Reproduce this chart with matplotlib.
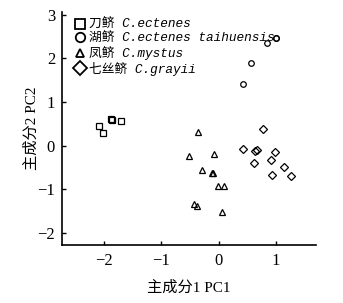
import matplotlib
matplotlib.use("Agg")
import matplotlib.pyplot as plt

# Data (PC1, PC2)
sq_x = [-2.08, -2.01, -1.87, -1.86, -1.70]
sq_y = [0.44, 0.29, 0.60, 0.58, 0.57]

ci_x = [0.43, 0.56, 0.85, 1.00, 1.01]
ci_y = [1.40, 1.90, 2.34, 2.47, 2.46]

tr_x = [-0.35, -0.52, -0.08, -0.29, -0.12, -0.09, -0.01, 0.09, -0.42, -0.38, 0.06]
tr_y = [0.32, -0.24, -0.20, -0.55, -0.63, -0.63, -0.92, -0.93, -1.35, -1.39, -1.53]

di_x = [0.77, 0.42, 0.64, 0.67, 0.62, 0.99, 0.92, 0.94, 1.14, 1.27]
di_y = [0.38, -0.09, -0.12, -0.10, -0.40, -0.15, -0.34, -0.68, -0.50, -0.69]

labels = ["刀鲚 C.ectenes", "湖鲚 C.ectenes taihuensis", "凤鲚 C.mystus", "七丝鲚 C.grayii"]
xticks = [-2, -1, 0, 1]
yticks = [-2, -1, 0, 1, 2, 3]

serif_cjk = ["Liberation Serif", "Noto Sans CJK SC"]

fig = plt.figure(figsize=(3.43, 3.03), dpi=100)
ax = fig.add_axes([62/343, 58/303, 254/343, 233/303])

kw = dict(linestyle="none", markerfacecolor="none", markeredgecolor="black", markeredgewidth=0.9)
h1, = ax.plot(sq_x, sq_y, marker="s", markersize=4.5, **kw)
h2, = ax.plot(ci_x, ci_y, marker="o", markersize=4.0, **kw)
h3, = ax.plot(tr_x, tr_y, marker="^", markersize=3.8, **kw)
h4, = ax.plot(di_x, di_y, marker="D", markersize=4.0, **kw)

ax.set_xlim(-2.73, 1.70)
ax.set_ylim(-2.28, 3.06)
ax.set_xticks(xticks)
ax.set_yticks(yticks)
ax.set_xticklabels([f"\u2212{abs(v)}" if v < 0 else str(v) for v in xticks], family=serif_cjk, fontsize=12)
ax.set_yticklabels([f"\u2212{abs(v)}" if v < 0 else str(v) for v in yticks], family=serif_cjk, fontsize=12)
ax.tick_params(axis="x", direction="in", length=3, width=1, pad=6)
ax.tick_params(axis="y", direction="in", length=3, width=1, pad=5)
for s in ["top", "right"]:
    ax.spines[s].set_visible(False)
for s in ["left", "bottom"]:
    ax.spines[s].set_linewidth(1.2)

ax.set_xlabel("主成分1 PC1", family=serif_cjk, fontsize=11, labelpad=8)
ax.set_ylabel("主成分2 PC2", family=serif_cjk, fontsize=11, labelpad=-1)

leg = ax.legend([h1, h2, h3, h4], labels, loc="upper left", frameon=False,
                bbox_to_anchor=(0.025, 1.0), borderaxespad=0.3, handlelength=0.8,
                handletextpad=0.3, labelspacing=0.12, borderpad=0.25,
                prop=dict(family=["Liberation Mono", "Noto Sans CJK SC"], style="italic", size=9.2))
sizes = [7.2, 6.8, 5.5, 7.0]
for lh, ms in zip(leg.legend_handles, sizes):
    lh.set_markersize(ms)
    lh.set_markeredgewidth(1.3)

fig.savefig("out.png", dpi=100)
